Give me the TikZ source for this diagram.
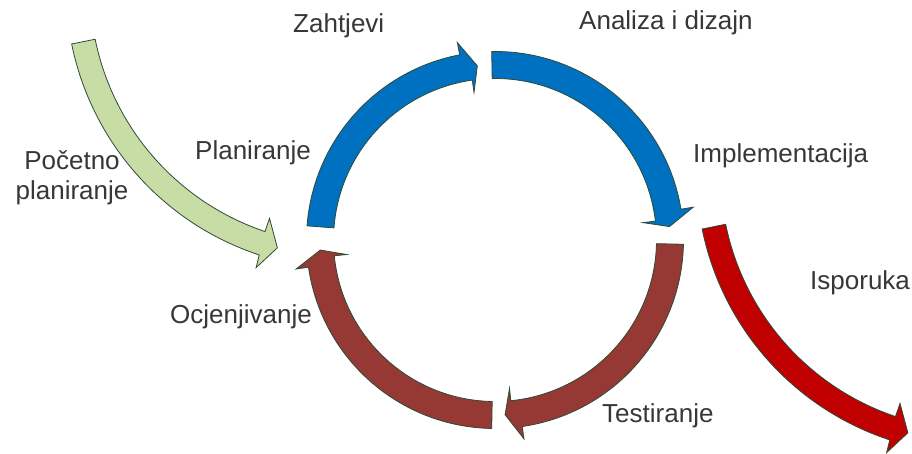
\documentclass[tikz,border=0pt]{standalone}
\usepackage{fontspec}
\setmainfont{Liberation Sans}
\definecolor{outl}{RGB}{45,75,55}
\definecolor{cblue}{RGB}{0,112,192}
\definecolor{cdred}{RGB}{150,56,52}
\definecolor{cred}{RGB}{192,0,0}
\definecolor{cgreen}{RGB}{200,220,165}
\definecolor{txt}{RGB}{55,55,55}
\tikzset{
  shapearrow/.style={fill=#1, draw=outl, line width=0.8pt, line join=miter},
  lbl/.style={text=txt, inner sep=0pt, font=\fontsize{26pt}{30pt}\selectfont},
}
% clockwise arrow on the main circle: #1 tail angle, #2 tip angle, #3 fill
\newcommand{\cycarrow}[3]{%
  \path[shapearrow=#3] (#1:188.5pt) arc[start angle=#1, end angle={#2+5}, radius=188.5pt]
    -- ({#2+5}:201pt) -- (#2:175pt) -- ({#2+2.3}:149pt) -- ({#2+2.3}:161.5pt)
    arc[start angle={#2+2.3}, end angle=#1, radius=161.5pt] -- cycle;}
% counter-clockwise side arrow (radius 269)
\newcommand{\sidearrow}[1]{%
  \path[shapearrow=#1] (191.5:281pt) arc[start angle=191.5, end angle=251.8, radius=281pt]
    -- (252:294pt) -- (255:269pt) -- (251.4:243pt) -- (251.4:257pt)
    arc[start angle=251.4, end angle=191.5, radius=257pt] -- cycle;}
\begin{document}
\begin{tikzpicture}[x=1pt,y=1pt]
\useasboundingbox[fill=white] (0,0) rectangle (912,454);
\begin{scope}[shift={(495pt,214pt)}]
  \cycarrow{175.7}{95.8}{cblue}
  \cycarrow{91}{4.4}{cblue}
  \cycarrow{-1.3}{-86.7}{cdred}
  \cycarrow{269}{183.3}{cdred}
\end{scope}
\begin{scope}[shift={(347pt,466pt)}]
  \sidearrow{cgreen}
\end{scope}
\begin{scope}[shift={(977.5pt,281pt)}]
  \sidearrow{cred}
\end{scope}
\node[lbl, anchor=base west] (zah) at (293,421) {Zahtjevi};
\node[lbl, anchor=base west] (ana) at (579,424) {Analiza i dizajn};
\node[lbl, anchor=base west] (imp) at (693,291) {Implementacija};
\node[lbl, anchor=base west] (pla) at (195,294) {Planiranje};
\node[lbl, anchor=base, align=center] (poc) at (72,254) {Početno\\planiranje};
\node[lbl, anchor=base west] (isp) at (810,164) {Isporuka};
\node[lbl, anchor=base east] (ocj) at (312,130) {Ocjenjivanje};
\node[lbl, anchor=base west] (tes) at (602,31) {Testiranje};
\end{tikzpicture}
\end{document}
